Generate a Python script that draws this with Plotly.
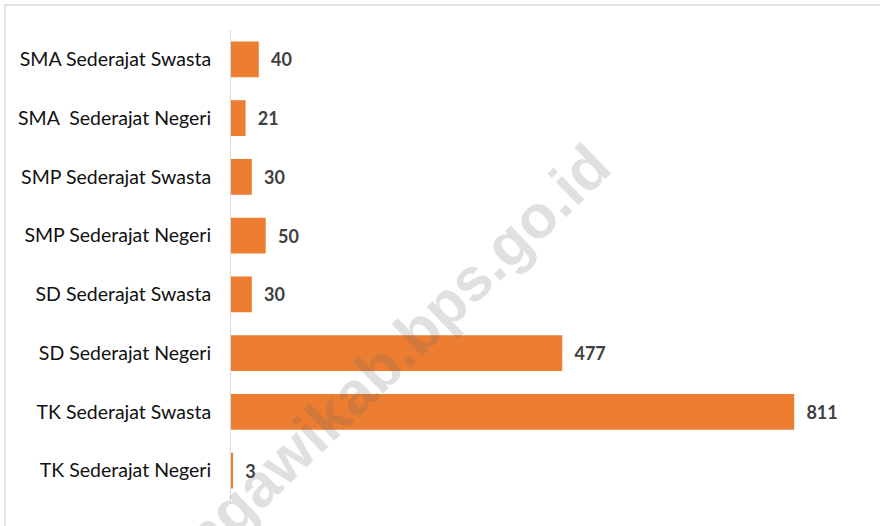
import plotly.graph_objects as go

categories = [
    "TK Sederajat Negeri",
    "TK Sederajat Swasta",
    "SD Sederajat Negeri",
    "SD Sederajat Swasta",
    "SMP Sederajat Negeri",
    "SMP Sederajat Swasta",
    "SMA\u00a0 Sederajat Negeri",
    "SMA Sederajat Swasta",
]
values = [3, 811, 477, 30, 50, 30, 21, 40]
watermark = "ngawikab.bps.go.id"

W, H = 880, 526
ml, mr, mt, mb = 231, 24, 30, 26
xmax = 900

fig = go.Figure()
fig.add_trace(go.Bar(
    y=categories, x=values, orientation="h",
    marker=dict(color="#ED7D31", line=dict(width=0)),
    width=0.61,
    text=values,
    texttemplate="  <b>%{x}</b>",
    textposition="outside",
    textfont=dict(family="Lato", size=18, color="#404040"),
    cliponaxis=False,
    hoverinfo="skip",
))

# watermark
px_x, px_y = 396, 352
pw, ph = W - ml - mr, H - mt - mb
fig.add_annotation(
    text="<b>" + watermark + "</b>",
    xref="paper", yref="paper",
    x=(px_x - ml) / pw, y=(H - mb - px_y) / ph,
    xanchor="center", yanchor="middle",
    showarrow=False, textangle=-44,
    font=dict(family="Liberation Sans", size=61, color="rgba(100,100,100,0.2)"),
)

# outer frame
fig.add_shape(
    type="rect", xref="paper", yref="paper",
    x0=(5 - ml) / pw, x1=(W + 20 - ml) / pw,
    y0=(H - mb - (H + 20)) / ph, y1=(H - mb - 5) / ph,
    line=dict(color="#d9d9d9", width=1.5), fillcolor="rgba(0,0,0,0)", layer="above",
)

fig.update_layout(
    width=W, height=H,
    margin=dict(l=ml, r=mr, t=mt, b=mb, pad=0),
    paper_bgcolor="white", plot_bgcolor="white",
    showlegend=False,
    bargap=0.39,
    xaxis=dict(range=[0, xmax], visible=False, fixedrange=True),
    yaxis=dict(
        showline=True, linecolor="#d9d9d9", linewidth=1,
        showgrid=False, zeroline=False, ticks="",
        ticklabelstandoff=15,
        tickfont=dict(family="Lato", size=19.5, color="#111111"),
        fixedrange=True,
    ),
    font=dict(family="Lato"),
)

fig.write_html(
    "out.html",
    config={"displayModeBar": False, "staticPlot": True},
    post_script="document.body.style.margin='0';document.body.style.overflow='hidden';",
)
